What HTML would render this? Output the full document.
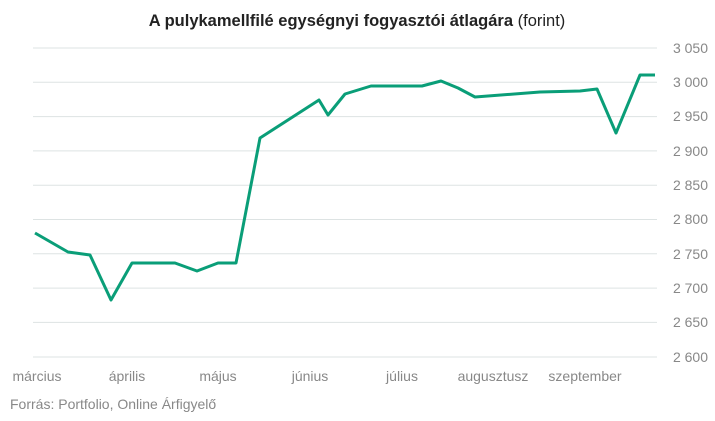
<!DOCTYPE html>
<html><head><meta charset="utf-8"><style>
body{margin:0;background:#fff;width:715px;height:416px;overflow:hidden;font-family:"Liberation Sans",sans-serif}
</style></head><body>
<svg width="715" height="416" xmlns="http://www.w3.org/2000/svg" font-family="Liberation Sans, sans-serif">
<text x="357" y="26" text-anchor="middle" font-size="16.5" fill="#222"><tspan font-weight="bold">A pulykamellfilé egységnyi fogyasztói átlagára</tspan> (forint)</text>
<g stroke="#dde3e3" stroke-width="1">
<line x1="33" x2="657" y1="48" y2="48"/><line x1="33" x2="657" y1="82.3" y2="82.3"/>
<line x1="33" x2="657" y1="116.6" y2="116.6"/><line x1="33" x2="657" y1="150.9" y2="150.9"/>
<line x1="33" x2="657" y1="185.2" y2="185.2"/><line x1="33" x2="657" y1="219.5" y2="219.5"/>
<line x1="33" x2="657" y1="253.8" y2="253.8"/><line x1="33" x2="657" y1="288.1" y2="288.1"/>
<line x1="33" x2="657" y1="322.4" y2="322.4"/><line x1="33" x2="657" y1="357" y2="357"/>
</g>
<g font-size="14" fill="#888" text-anchor="end">
<text x="708" y="53">3 050</text><text x="708" y="87">3 000</text><text x="708" y="121">2 950</text>
<text x="708" y="156">2 900</text><text x="708" y="190">2 850</text><text x="708" y="224">2 800</text>
<text x="708" y="259">2 750</text><text x="708" y="293">2 700</text><text x="708" y="327">2 650</text>
<text x="708" y="362">2 600</text>
</g>
<g font-size="14" fill="#888" text-anchor="middle">
<text x="37" y="381">március</text><text x="127" y="381">április</text><text x="218" y="381">május</text>
<text x="310" y="381">június</text><text x="402" y="381">július</text><text x="493" y="381">augusztusz</text>
<text x="585" y="381">szeptember</text>
</g>
<text x="10" y="409" font-size="14" fill="#888">Forrás: Portfolio, Online Árfigyelő</text>
<polyline fill="none" stroke="#0a9e78" stroke-width="3" stroke-linejoin="round" points="35,233 68,252 90,255 111,300 132,263 175,263 197,271 218,263 236,263 260,138 319,100 328,115 345,94 371,86 422,86 441,81 458,88 475,97 540,92 580,91 597,89 616,133 640,75 655,75"/>
</svg>
</body></html>
